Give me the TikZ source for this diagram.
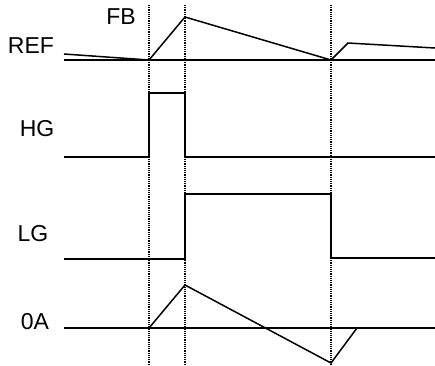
\documentclass[tikz,border=0pt]{standalone}
\usepackage{fontspec}
\setmainfont{Liberation Sans}
\usetikzlibrary{calc}

\begin{document}
\begin{tikzpicture}[x=1pt, y=-1pt, line join=miter,
  wave/.style={line width=1.5pt},
  guide/.style={dash pattern=on 1.1pt off 1.1pt, line width=1.1pt},
  lbl/.style={inner sep=0pt, font=\fontsize{23}{27}\selectfont}]
  \useasboundingbox (0,0) rectangle (435,365);
  % time instants
  \coordinate (t1) at (149,0);
  \coordinate (t2) at (185,0);
  \coordinate (t3) at (331,0);
  % ---------------------------------------------------------------- guides
  \foreach \t in {t1,t2,t3}
    \draw[guide] (\t |- 0,5) -- (\t |- 0,364);
  % ---------------------------------------------------------------- REF / FB
  \node[lbl] (ref) at (31,46) {REF};
  \node[lbl] (fb) at (121,17) {FB};
  \draw[wave] (64,60) -- (435,60);
  \draw[wave] (64,54) -- (149,60) -- (185,17) -- (331,60) -- (348,43) -- (435,48);
  % ---------------------------------------------------------------- HG
  \node[lbl] (hg) at (37,129) {HG};
  \draw[wave] (64,157) -- (149,157) -- (149,93) -- (185,93) -- (185,157) -- (435,157);
  % ---------------------------------------------------------------- LG
  \node[lbl] (lg) at (33,234) {LG};
  \draw[wave] (64,259) -- (185,259) -- (185,194) -- (331,194) -- (331,258) -- (435,258);
  % ---------------------------------------------------------------- 0A
  \node[lbl] (oa) at (35,322) {0A};
  \draw[wave] (64,328) -- (435,328);
  \draw[wave] (149,328) -- (185,285) -- (331,363) -- (357,328);
\end{tikzpicture}
\end{document}
